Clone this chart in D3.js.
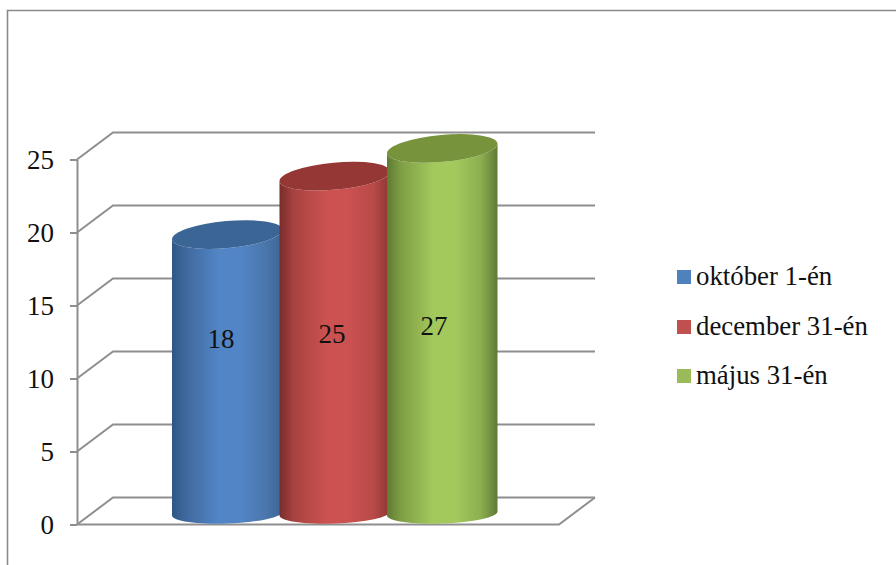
<!DOCTYPE html>
<html>
<head>
<meta charset="utf-8">
<script src="https://cdn.jsdelivr.net/npm/d3@7"></script>
<style>
  html, body { margin: 0; padding: 0; background: #fff; }
  svg { display: block; }
  text { font-family: "Liberation Serif", serif; fill: #111; }
</style>
</head>
<body>
<div id="chart"></div>
<script>
const seriesNames = ["október 1-én", "december 31-én", "május 31-én"];
// drawn heights; the printed labels differ from them in the original
const barHeights = [18.9, 22.9, 24.8];
const dataLabels = [18, 25, 27];
const tickValues = [0, 5, 10, 15, 20, 25];

const sideColors = [
  ["#2f5684", "#40699e", "#5285c6", "#5285c6", "#4a76ab", "#3c6595"],
  ["#782d2b", "#a84240", "#cb5250", "#cb5250", "#b84a48", "#8c3634"],
  ["#5f7a32", "#7f9f45", "#a3c95c", "#a3c95c", "#8cae50", "#5f7a34"]
];
const topColors = ["#3b6595", "#953735", "#77933c"];
const legendColors = ["#4f81bd", "#c0504d", "#9bbb59"];
const gridColor = "#8e8e8e";

const width = 896, height = 565;
const depthX = 36, depthY = 27;

const svg = d3.select("#chart").append("svg")
  .attr("width", width)
  .attr("height", height);

const y = d3.scaleLinear().domain([0, 25]).range([524.5, 159.5]);
const x = d3.scaleBand().domain(d3.range(3)).range([172, 494.5]);
const frontLeft = 77, frontRight = 559;

// Outer frame (only top and left are visible)
svg.append("path")
  .attr("d", `M7.5,${height}V10.5H${width}`)
  .attr("fill", "none")
  .attr("stroke", "#8a8a8a")
  .attr("stroke-width", 1.6);

// Walls and floor
const grid = svg.append("g")
  .attr("fill", "none")
  .attr("stroke", gridColor)
  .attr("stroke-width", 2);

grid.selectAll("path")
  .data(tickValues)
  .join("path")
  .attr("d", d => `M${frontLeft},${y(d)}L${frontLeft + depthX},${y(d) - depthY}H${frontRight + depthX}`);

grid.append("path")
  .attr("d", `M${frontLeft},${y(0)}H${frontRight}L${frontRight + depthX},${y(0) - depthY}`);

// Value axis
const axis = svg.append("g")
  .attr("transform", `translate(${frontLeft},0)`)
  .call(d3.axisLeft(y).tickValues(tickValues).tickSize(7).tickPadding(16).tickSizeOuter(0));

axis.select(".domain").attr("stroke", gridColor).attr("stroke-width", 2);
axis.selectAll(".tick line").attr("stroke", gridColor).attr("stroke-width", 2);
axis.selectAll(".tick text")
  .attr("font-size", 27)
  .attr("font-family", '"Liberation Serif", serif')
  .attr("fill", "#111")
  .attr("dy", "0.33em");

// Cylinders
const defs = svg.append("defs");
sideColors.forEach((stops, i) => {
  const grad = defs.append("linearGradient")
    .attr("id", "side" + i)
    .attr("x1", 0).attr("x2", 1).attr("y1", 0).attr("y2", 0);
  [0, 0.13, 0.42, 0.62, 0.85, 1].forEach((o, j) => {
    grad.append("stop").attr("offset", o).attr("stop-color", stops[j]);
  });
});

const barWidth = x.bandwidth() + 3;
const baseOffset = 9;   // left end of the base ellipse sits above the floor's front edge
const topTilt = 10, baseTilt = 4;
const topRy = 13.5, baseRy = 10;

const bars = svg.append("g")
  .selectAll("g")
  .data(barHeights)
  .join("g");

bars.append("path")
  .attr("fill", (d, i) => `url(#side${i})`)
  .attr("d", (d, i) => {
    const l = x(i), r = l + barWidth;
    const yTop = y(d) - baseOffset, yBase = y(0) - baseOffset;
    const rxTop = Math.hypot(barWidth, topTilt) / 2;
    const rxBase = Math.hypot(barWidth, baseTilt) / 2;
    const rotTop = -Math.atan2(topTilt, barWidth) * 180 / Math.PI;
    const rotBase = -Math.atan2(baseTilt, barWidth) * 180 / Math.PI;
    return `M${l},${yTop}L${l},${yBase}` +
      `A${rxBase},${baseRy} ${rotBase} 0 0 ${r},${yBase - baseTilt}` +
      `L${r},${yTop - topTilt}` +
      `A${rxTop},${topRy} ${rotTop} 0 1 ${l},${yTop}Z`;
  });

bars.append("ellipse")
  .attr("fill", (d, i) => topColors[i])
  .attr("rx", Math.hypot(barWidth, topTilt) / 2)
  .attr("ry", topRy)
  .attr("transform", (d, i) => {
    const cx = x(i) + barWidth / 2, cy = y(d) - baseOffset - topTilt / 2;
    return `translate(${cx},${cy}) rotate(${-Math.atan2(topTilt, barWidth) * 180 / Math.PI})`;
  });

// Data labels
const labelX = [221, 332, 434];
const labelY = [339, 334, 326];
svg.append("g")
  .selectAll("text")
  .data(dataLabels)
  .join("text")
  .attr("x", (d, i) => labelX[i])
  .attr("y", (d, i) => labelY[i])
  .attr("dy", "0.33em")
  .attr("text-anchor", "middle")
  .attr("font-size", 27)
  .text(d => d);

// Legend
const legendY = [277, 327, 376];
const legend = svg.append("g")
  .selectAll("g")
  .data(seriesNames)
  .join("g")
  .attr("transform", (d, i) => `translate(677,${legendY[i]})`);

legend.append("rect")
  .attr("y", -7)
  .attr("width", 14)
  .attr("height", 14)
  .attr("fill", (d, i) => legendColors[i]);

legend.append("text")
  .attr("x", 19)
  .attr("y", 8)
  .attr("font-size", 26.8)
  .text(d => d);
</script>
</body>
</html>
